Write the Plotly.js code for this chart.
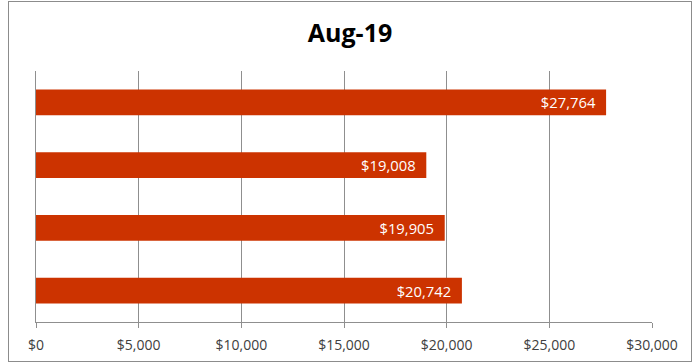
<!DOCTYPE html>
<html><head><meta charset="utf-8">
<script src="https://cdn.plot.ly/plotly-3.0.1.min.js"></script>
<style>
html,body{margin:0;padding:0;background:#fff;}
#wrap{position:relative;width:700px;height:364px;}
#chart{width:700px;height:364px;}
#frame{position:absolute;left:8px;top:1px;width:682px;height:359px;border:1px solid #8c8c8c;pointer-events:none;box-sizing:content-box;}
</style></head>
<body>
<div id="wrap"><div id="chart"></div><div id="frame"></div></div>
<script>
const title = 'Aug-19';
const categories = ['Bar 1', 'Bar 2', 'Bar 3', 'Bar 4'];
const values = [27764, 19008, 19905, 20742];
const tickValues = [0, 5000, 10000, 15000, 20000, 25000, 30000];
const tickLabels = ['$0', '$5,000', '$10,000', '$15,000', '$20,000', '$25,000', '$30,000'];

const labels = values.map(v => '$' + v.toLocaleString('en-US') + '\u00a0\u00a0');

const trace = {
  type: 'bar',
  orientation: 'h',
  x: values,
  y: categories,
  text: labels,
  textposition: 'inside',
  insidetextanchor: 'end',
  textfont: {family: 'Open Sans', size: 15, color: '#ffffff'},
  marker: {color: '#CC3300'},
  hoverinfo: 'none',
  cliponaxis: false
};

const layout = {
  width: 700, height: 364,
  margin: {l: 36, r: 48, t: 71, b: 42},
  paper_bgcolor: '#ffffff', plot_bgcolor: '#ffffff',
  showlegend: false,
  bargap: 0.59,
  title: {text: '<b>' + title + '</b>', x: 0.5, xanchor: 'center', y: 0.91, yanchor: 'middle',
          font: {family: 'Open Sans', size: 25, color: '#000000'}},
  xaxis: {
    range: [0, 30000], tickvals: tickValues, ticktext: tickLabels,
    showgrid: true, gridcolor: '#8f8f8f', gridwidth: 1,
    zeroline: false, showline: true, linecolor: '#8f8f8f', linewidth: 1,
    ticks: 'outside', ticklen: 5, tickcolor: '#8f8f8f', tickwidth: 1,
    ticklabelstandoff: 5,
    tickfont: {family: 'Open Sans', size: 14, color: '#404040'},
    fixedrange: true
  },
  yaxis: {
    type: 'category', categoryorder: 'array', categoryarray: categories,
    autorange: 'reversed', showticklabels: false, ticks: '',
    showgrid: false, zeroline: false, showline: true, linecolor: '#8f8f8f', linewidth: 1,
    fixedrange: true
  }
};

Plotly.newPlot('chart', [trace], layout, {displayModeBar: false, staticPlot: true});
</script>
</body></html>
